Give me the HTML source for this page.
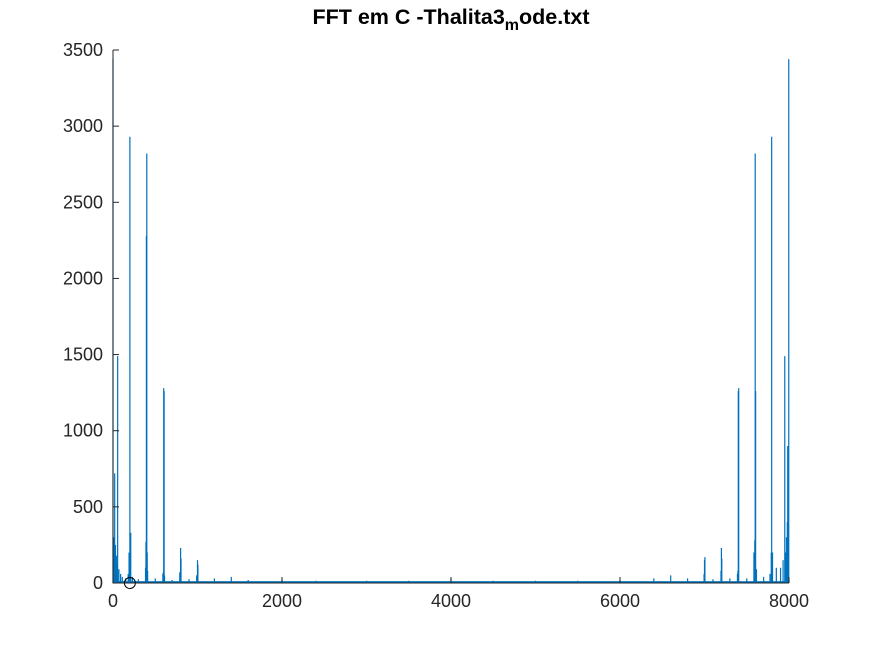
<!DOCTYPE html>
<html><head><meta charset="utf-8"><style>
html,body{margin:0;padding:0;background:#fff;}
svg{display:block;font-family:"Liberation Sans",sans-serif;}
</style></head><body>
<svg id="chart" width="872" height="654" viewBox="0 0 872 654" xmlns="http://www.w3.org/2000/svg">
<rect x="0" y="0" width="872" height="654" fill="#fff"/>
<text x="451" y="24" text-anchor="middle" font-size="21.5" font-weight="bold" fill="#000">FFT em C -Thalita3<tspan font-size="16" dy="6">m</tspan><tspan dy="-6">ode.txt</tspan></text>
<g id="plot"></g>
<g id="axes"></g>
</svg>
<script>
const xTicks=[0,2000,4000,6000,8000];
const yTicks=[0,500,1000,1500,2000,2500,3000,3500];
const freqs=[0,10,20,30,40,50,55,70,90,110,150,180,190,200,210,230,300,385,390,395,400,405,410,500,590,595,600,605,610,700,790,800,805,900,990,1000,1005,1200,1400,1600,2000,2400,3000,3500,4000,4500,5000,5500,6000,6400,6600,6800,6995,7000,7005,7100,7195,7200,7205,7300,7390,7395,7400,7405,7500,7585,7595,7600,7605,7615,7700,7775,7790,7795,7800,7805,7850,7900,7930,7950,7960,7970,7980,7985,7990,7997,8000];
const amps=[3440,300,720,250,180,120,1490,90,60,40,30,60,200,2930,330,40,25,100,270,2280,2820,200,80,30,60,70,1280,1260,50,20,70,230,160,25,50,150,120,30,40,20,25,15,15,15,30,15,15,15,20,30,50,30,60,150,170,25,80,230,160,30,60,80,1260,1280,30,200,280,2820,1260,90,40,60,200,2930,120,200,100,100,150,1490,200,300,400,900,350,3440,20];
const markerFreq=[200];
const markerAmp=[0];

const X0=113,X1=789,Y0=583,Y1=50;
const xs=f=>X0+(f-0)/(8000-0)*(X1-X0);
const ys=v=>Y0-(v-0)/(3500-0)*(Y0-Y1);
const NS="http://www.w3.org/2000/svg";
const plot=document.getElementById('plot');
const axes=document.getElementById('axes');

const base=document.createElementNS(NS,'rect');


base.setAttribute('x',xs(0));base.setAttribute('y',ys(12));
base.setAttribute('width',xs(8000)-xs(0));base.setAttribute('height',ys(0)-ys(12));
base.setAttribute('fill','#0072bd');
plot.appendChild(base);

const line=document.createElementNS(NS,'path');


let d='';
freqs.forEach((f,i)=>{const x=xs(f).toFixed(2);d+='M'+x+' '+ys(0).toFixed(2)+'L'+x+' '+ys(amps[i]).toFixed(2);});
line.setAttribute('d',d);
line.setAttribute('fill','none');
line.setAttribute('stroke','#0072bd');
line.setAttribute('stroke-width','1.2');
plot.appendChild(line);

markerFreq.forEach((f,i)=>{
const c=document.createElementNS(NS,'circle');


c.setAttribute('cx',xs(f));c.setAttribute('cy',ys(markerAmp[i]));c.setAttribute('r',5.5);
c.setAttribute('fill','none');c.setAttribute('stroke','#000');c.setAttribute('stroke-width','1');
plot.appendChild(c);
});

const ax=document.createElementNS(NS,'path');


ax.setAttribute('d',`M${X0} ${Y1}L${X0} ${Y0}L${X1} ${Y0}`);
ax.setAttribute('fill','none');ax.setAttribute('stroke','#262626');ax.setAttribute('stroke-width','1');
axes.appendChild(ax);

xTicks.forEach(t=>{
const tk=document.createElementNS(NS,'line');


tk.setAttribute('x1',xs(t));tk.setAttribute('x2',xs(t));tk.setAttribute('y1',Y0);tk.setAttribute('y2',Y0-6);
tk.setAttribute('stroke','#262626');
axes.appendChild(tk);
const tx=document.createElementNS(NS,'text');


tx.setAttribute('x',xs(t));tx.setAttribute('y',Y0+24);tx.setAttribute('text-anchor','middle');
tx.setAttribute('font-size','18');tx.setAttribute('fill','#262626');
tx.textContent=t;
axes.appendChild(tx);
});
yTicks.forEach(t=>{
const tk=document.createElementNS(NS,'line');


tk.setAttribute('x1',X0);tk.setAttribute('x2',X0+6);tk.setAttribute('y1',ys(t));tk.setAttribute('y2',ys(t));
tk.setAttribute('stroke','#262626');
axes.appendChild(tk);
const tx=document.createElementNS(NS,'text');


tx.setAttribute('x',X0-10);tx.setAttribute('y',ys(t)+6);tx.setAttribute('text-anchor','end');
tx.setAttribute('font-size','18');tx.setAttribute('fill','#262626');
tx.textContent=t;
axes.appendChild(tx);
});
</script>
</body></html>
